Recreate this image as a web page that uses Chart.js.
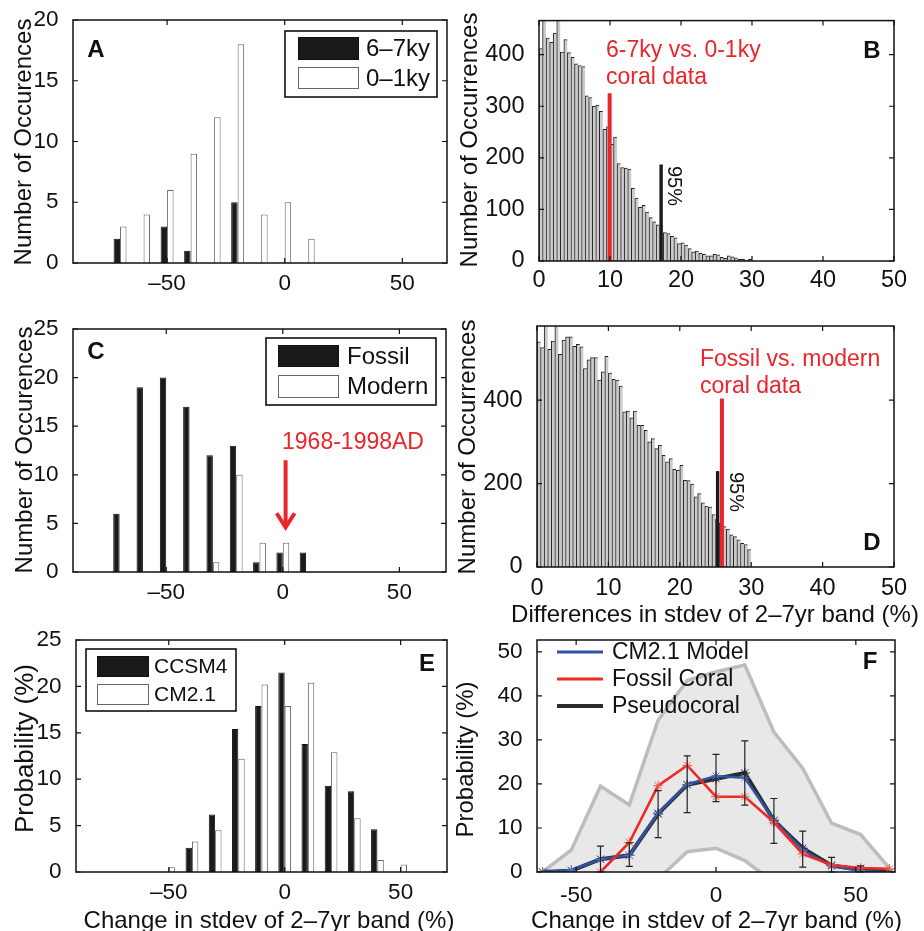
<!DOCTYPE html>
<html><head><meta charset="utf-8">
<style>
html,body{margin:0;padding:0;background:#fff;overflow:hidden;width:924px;height:931px;position:relative;}
canvas{position:absolute;}
</style>
<script src="https://cdn.jsdelivr.net/npm/chart.js@4.4.1/dist/chart.umd.min.js"></script>
</head><body>
<canvas id="cA"></canvas><canvas id="cB"></canvas><canvas id="cC"></canvas>
<canvas id="cD"></canvas><canvas id="cE"></canvas><canvas id="cF"></canvas>
<script>
// ---------------- DATA ----------------
// Panels A and C: grouped histograms, bin centres (%)
const groupBins = [-70, -60, -50, -40, -30, -20, -10, 0, 10];
const a_6_7ky = [2, 0, 3, 1, 0, 5, 0, 0, 0];
const a_0_1ky = [3, 4, 6, 9, 12, 18, 4, 5, 2];
const c_fossil = [6, 19, 20, 17, 12, 13, 1, 2, 2];
const c_modern = [0, 0, 0, 0, 1, 10, 3, 3, 0];
const cArrow = [1.2, 11.5, 4.4];          // x, start y, tip y

// Panels B and D: histogram bin centres (%) and counts
const histCenters = [0.25,0.75,1.25,1.75,2.25,2.75,3.25,3.75,4.25,4.75,5.25,5.75,6.25,6.75,7.25,7.75,8.25,8.75,9.25,9.75,
  10.25,10.75,11.25,11.75,12.25,12.75,13.25,13.75,14.25,14.75,15.25,15.75,16.25,16.75,17.25,17.75,18.25,18.75,19.25,19.75,
  20.25,20.75,21.25,21.75,22.25,22.75,23.25,23.75,24.25,24.75,25.25,25.75,26.25,26.75,27.25,27.75,28.25,28.75,29.25,29.75];
const bCounts = [412,480,432,424,442,480,405,429,404,395, 382,379,377,320,317,300,302,290,255,260,
  226,240,189,181,180,178,141,122,104,108, 95,84,76,70,68,55,53,48,45,34,
  35,31,24,18,19,15,13,10,10,13, 12,7,5,10,8,6,3,3,2,3];
const dCounts = [540,526,590,522,542,590,510,544,552,552, 529,534,528,476,497,502,502,448,468,505,
  465,450,448,434,372,374,358,374,340,340, 328,300,308,284,292,268,252,260,234,232,
  244,208,207,199,168,176,154,146,144,126, 115,105,97,91,77,73,65,57,54,42];
const bCoral = [9.95, 325];   // x, height
const b95 = [17.2, 187];
const dCoral = [25.9, 404];
const d95 = [25.3, 230];

// Panel E
const eBins = [-50, -40, -30, -20, -10, 0, 10, 20, 30, 40, 50];
const e_ccsm4 = [0, 2.6, 6.2, 15.4, 17.9, 21.5, 13.8, 9.3, 8.7, 4.6, 0];
const e_cm21 = [0.5, 3.3, 4.5, 12.2, 20.2, 17.9, 20.4, 12.9, 5.8, 1.3, 0.8];

// Panel F
const fX = [-62, -51.7, -41.3, -31, -20.7, -10.3, 0, 10.3, 20.7, 31, 41.3, 51.7, 62];
const fModel = [0, 0.4, 2.9, 3.8, 13.4, 19.9, 21.8, 21.4, 11.8, 5.0, 1.3, 0.3, -0.2];
const fFossil = [null, null, 0, 6.7, 19.6, 24.2, 17.1, 17.1, 11.3, 4.1, 1.6, 0.9, 0.7];
const fPseudo = [0, 0.3, 2.9, 3.8, 13.2, 19.8, 21.2, 22.5, 11.7, 5.4, 1.5, 0.5, 0];
const fErrHi = [null, null, 5.9, 6.6, 18.5, 26.4, 26.7, 29.8, 16.7, 9.3, 3.3, 1.4, null];
const fErrLo = [null, null, 0, 1.3, 7.8, 13.5, 16.0, 15.2, 6.5, 1.1, 0, 0, null];
const fUpper = [0, 5.0, 19.5, 15.2, 34.5, 43.5, 45.5, 47.0, 31.8, 23.6, 11.1, 8.5, 0.9];
const fLower = [-5, -5, -5, -5, -1.6, 4.6, 5.4, 2.6, -2.4, -5, -5, -5, -5];

// Ticks
const ticksPct = [-50, 0, 50];
const labelsPct = ['\u201350', '0', '50'];
const labelsPctF = ['-50', '0', '50'];
const ticksDiff = [0, 10, 20, 30, 40, 50];
const ticksA_y = [0, 5, 10, 15, 20];
const ticksB_y = [0, 100, 200, 300, 400];
const ticksC_y = [0, 5, 10, 15, 20, 25];
const ticksD_y = [0, 200, 400];
const ticksE_y = [0, 5, 10, 15, 20, 25];
const ticksF_y = [0, 10, 20, 30, 40, 50];

// ---------------- HELPERS ----------------
const FONT = "'Liberation Sans', Arial, Helvetica, sans-serif";
const INK = '#111';
const RED = '#e8262b';

function pts(xs, ys, zeroAsNull) {
  return xs.map((x, i) => ({x, y: (zeroAsNull && ys[i] === 0) ? null : ys[i]}));
}

function frameTicks(chart) {
  const {ctx, chartArea: a, scales: {x, y}} = chart;
  const TL = 5;
  ctx.save();
  ctx.strokeStyle = INK; ctx.lineWidth = 1.2;
  ctx.beginPath();
  x.ticks.forEach(t => { const p = x.getPixelForValue(t.value);
    ctx.moveTo(p, a.bottom); ctx.lineTo(p, a.bottom - TL); ctx.moveTo(p, a.top); ctx.lineTo(p, a.top + TL); });
  y.ticks.forEach(t => { const p = y.getPixelForValue(t.value);
    ctx.moveTo(a.left, p); ctx.lineTo(a.left + TL, p); ctx.moveTo(a.right, p); ctx.lineTo(a.right - TL, p); });
  ctx.stroke();
  ctx.lineWidth = 1.5;
  ctx.strokeRect(a.left, a.top, a.right - a.left, a.bottom - a.top);
  ctx.restore();
}
function xTickLabels(chart, labels, offset, size) {
  const {ctx, chartArea: a, scales: {x}} = chart;
  ctx.save(); ctx.font = size + 'px ' + FONT; ctx.fillStyle = INK;
  ctx.textAlign = 'center'; ctx.textBaseline = 'middle';
  x.ticks.forEach((t, i) => {
    const s = labels ? labels[i] : String(t.value);
    ctx.fillText(s, x.getPixelForValue(t.value), a.bottom + offset);
  });
  ctx.restore();
}
function letter(ctx, s, x, y) {
  ctx.save(); ctx.font = 'bold 24px ' + FONT; ctx.fillStyle = INK;
  ctx.textAlign = 'center'; ctx.textBaseline = 'middle'; ctx.fillText(s, x, y); ctx.restore();
}
function text(ctx, s, x, y, size, color, align) {
  ctx.save(); ctx.font = size + 'px ' + FONT; ctx.fillStyle = color;
  ctx.textAlign = align || 'left'; ctx.textBaseline = 'alphabetic'; ctx.fillText(s, x, y); ctx.restore();
}
function rtext(ctx, s, x, y, size, angle) {
  ctx.save(); ctx.translate(x, y); ctx.rotate(angle);
  ctx.font = size + 'px ' + FONT; ctx.fillStyle = INK; ctx.textAlign = 'center'; ctx.textBaseline = 'middle';
  ctx.fillText(s, 0, 0); ctx.restore();
}
function vline(chart, mark, color, w) {
  const {ctx, scales: {x, y}} = chart;
  const px = x.getPixelForValue(mark[0]);
  ctx.save(); ctx.strokeStyle = color; ctx.lineWidth = w; ctx.beginPath();
  ctx.moveTo(px, y.getPixelForValue(0)); ctx.lineTo(px, y.getPixelForValue(mark[1])); ctx.stroke(); ctx.restore();
}
function boxLegend(chart, g) {
  const {ctx} = chart;
  ctx.save();
  ctx.fillStyle = '#fff'; ctx.fillRect(g.box[0], g.box[1], g.box[2] - g.box[0], g.box[3] - g.box[1]);
  ctx.strokeStyle = INK; ctx.lineWidth = 1.6;
  ctx.strokeRect(g.box[0], g.box[1], g.box[2] - g.box[0], g.box[3] - g.box[1]);
  chart.data.datasets.forEach((ds, i) => {
    const [t, b] = g.rows[i];
    ctx.fillStyle = ds.backgroundColor;
    ctx.fillRect(g.sw[0], t, g.sw[1] - g.sw[0], b - t);
    ctx.strokeStyle = ds.borderColor; ctx.lineWidth = 1;
    ctx.strokeRect(g.sw[0] + 0.5, t + 0.5, g.sw[1] - g.sw[0] - 1, b - t - 1);
    ctx.fillStyle = INK; ctx.font = g.size + 'px ' + FONT;
    ctx.textAlign = 'left'; ctx.textBaseline = 'middle';
    ctx.fillText(ds.label, g.tx, (t + b) / 2 + 1);
  });
  ctx.restore();
}

function panel(cfg) {
  const c = document.getElementById(cfg.id);
  const [PX, PY, W, H] = cfg.box;
  c.width = W; c.height = H; c.style.left = PX + 'px'; c.style.top = PY + 'px';
  c.style.width = W + 'px'; c.style.height = H + 'px';
  const [L, T, R, B] = cfg.area;
  const xo = cfg.x, yo = cfg.y;
  const tickSize = cfg.tickSize || 22.5;
  const tickFont = {family: FONT, size: tickSize};
  const scales = {
    x: {
      type: 'linear', min: xo.min, max: xo.max, offset: false, position: 'bottom',
      grid: {display: false}, border: {display: false},
      afterBuildTicks: s => { s.ticks = xo.ticks.map(v => ({value: v})); },
      afterFit: s => { s.height = H - B; },
      ticks: {display: false, autoSkip: false},
      title: {display: false}
    },
    y: {
      type: 'linear', min: yo.min, max: yo.max, position: 'left',
      grid: {display: false}, border: {display: false},
      afterBuildTicks: s => { s.ticks = yo.ticks.map(v => ({value: v})); },
      afterFit: s => { s.width = L; },
      ticks: {autoSkip: false, padding: 6.5, color: INK, font: tickFont, callback: v => String(v)},
      title: {display: false}
    }
  };
  return new Chart(c, {
    type: cfg.type,
    data: {datasets: cfg.datasets},
    options: {
      responsive: false, animation: false, events: [],
      layout: {padding: {left: 0, top: T, right: W - R, bottom: 0}},
      scales,
      plugins: {legend: {display: false}, tooltip: {enabled: false}}
    },
    plugins: [{
      id: 'decor',
      afterDatasetsDraw: ch => { if (cfg.under) cfg.under(ch); },
      afterDraw: ch => {
        frameTicks(ch);
        const ctx = ch.ctx, a = ch.chartArea;
        xTickLabels(ch, xo.labels, xo.offset, tickSize);
        if (yo.title) rtext(ctx, yo.title, yo.titleX, yo.titleY !== undefined ? yo.titleY : (a.top + a.bottom) / 2,
          yo.titleSize || 24, -Math.PI / 2);
        if (xo.title) rtext(ctx, xo.title, xo.titleX !== undefined ? xo.titleX : (a.left + a.right) / 2, xo.titleY, 24, 0);
        if (cfg.over) cfg.over(ch);
      }
    }]
  });
}

const pairBar = {categoryPercentage: 0.55, barPercentage: 1, borderWidth: 1, borderSkipped: 'start'};
const histBar = {categoryPercentage: 1, barPercentage: 1, backgroundColor: '#cbcbcb', borderColor: '#222',
  borderWidth: {top: 1, left: 1, right: 0, bottom: 0}, borderSkipped: 'start', clip: 0};

// ---------------- PANEL A ----------------
panel({
  id: 'cA', type: 'bar', box: [0, 0, 460, 310], area: [73, 20, 447, 263],
  x: {min: -90, max: 69, ticks: ticksPct, labels: labelsPct, offset: 21},
  y: {min: 0, max: 20, ticks: ticksA_y, title: 'Number of Occurences', titleX: 24.7, titleY: 142},
  datasets: [
    Object.assign({label: '6\u20137ky', data: pts(groupBins, a_6_7ky, true), backgroundColor: '#1a1a1a', borderColor: '#111'}, pairBar),
    Object.assign({label: '0\u20131ky', data: pts(groupBins, a_0_1ky, true), backgroundColor: '#ffffff', borderColor: '#666'}, pairBar)
  ],
  over: ch => {
    letter(ch.ctx, 'A', 96, 50);
    boxLegend(ch, {box: [285, 31, 437, 97], sw: [298, 359], rows: [[37, 60], [67, 89]], tx: 366, size: 24});
  }
});

// ---------------- PANEL B ----------------
panel({
  id: 'cB', type: 'bar', box: [450, 0, 474, 310], area: [89, 20, 444, 261], tickSize: 23.5,
  x: {min: 0, max: 50, ticks: ticksDiff, offset: 20},
  y: {min: 0, max: 466, ticks: ticksB_y, title: 'Number of Occurrences', titleX: 20, titleY: 140},
  datasets: [Object.assign({label: '6-7ky vs. 0-1ky', data: pts(histCenters, bCounts, false)}, histBar)],
  under: ch => { vline(ch, bCoral, RED, 4); vline(ch, b95, '#1a1a1a', 3.4); },
  over: ch => {
    const ctx = ch.ctx;
    letter(ctx, 'B', 422, 51);
    text(ctx, '6-7ky vs. 0-1ky', 156, 57, 23, RED);
    text(ctx, 'coral data', 156, 84, 23, RED);
    rtext(ctx, '95%', 224, 186, 20, Math.PI / 2);
  }
});

// ---------------- PANEL C ----------------
panel({
  id: 'cC', type: 'bar', box: [0, 305, 460, 320], area: [73, 24, 446, 267],
  x: {min: -90, max: 70, ticks: ticksPct, labels: labelsPct, offset: 21},
  y: {min: 0, max: 25, ticks: ticksC_y, title: 'Number of Occurences', titleX: 25, titleY: 145},
  datasets: [
    Object.assign({label: 'Fossil', data: pts(groupBins, c_fossil, true), backgroundColor: '#1a1a1a', borderColor: '#111'}, pairBar),
    Object.assign({label: 'Modern', data: pts(groupBins, c_modern, true), backgroundColor: '#ffffff', borderColor: '#666'}, pairBar)
  ],
  under: ch => {
    const {ctx, scales: {x, y}} = ch;
    const px = x.getPixelForValue(cArrow[0]);
    const y0 = y.getPixelForValue(cArrow[1]), y1 = y.getPixelForValue(cArrow[2]);
    ctx.save(); ctx.strokeStyle = RED; ctx.lineWidth = 4; ctx.lineCap = 'butt';
    ctx.beginPath(); ctx.moveTo(px, y0); ctx.lineTo(px, y1 - 3); ctx.stroke();
    ctx.lineJoin = 'miter';
    ctx.beginPath(); ctx.moveTo(px - 9, y1 - 16); ctx.lineTo(px, y1 - 2); ctx.lineTo(px + 9, y1 - 16); ctx.stroke();
    ctx.restore();
  },
  over: ch => {
    letter(ch.ctx, 'C', 96, 47);
    text(ch.ctx, '1968-1998AD', 353, 144, 23, RED, 'center');
    boxLegend(ch, {box: [266, 33, 436, 100], sw: [278, 339], rows: [[40, 62], [70, 93]], tx: 347, size: 24});
  }
});

// ---------------- PANEL D ----------------
panel({
  id: 'cD', type: 'bar', box: [450, 305, 474, 325], area: [87, 21, 444, 262], tickSize: 23.5,
  x: {min: 0, max: 50, ticks: ticksDiff, offset: 22, title: 'Differences in stdev of 2\u20137yr band (%)', titleX: 265, titleY: 310},
  y: {min: 0, max: 578, ticks: ticksD_y, title: 'Number of Occurrences', titleX: 18.5, titleY: 142},
  datasets: [Object.assign({label: 'Fossil vs. modern', data: pts(histCenters, dCounts, false)}, histBar)],
  under: ch => { vline(ch, d95, '#1a1a1a', 3.4); vline(ch, dCoral, RED, 4); },
  over: ch => {
    const ctx = ch.ctx;
    letter(ctx, 'D', 422, 238);
    text(ctx, 'Fossil vs. modern', 250, 61, 23, RED);
    text(ctx, 'coral data', 250, 88, 23, RED);
    rtext(ctx, '95%', 286, 187, 20, Math.PI / 2);
  }
});

// ---------------- PANEL E ----------------
panel({
  id: 'cE', type: 'bar', box: [0, 620, 460, 320], area: [76, 15, 447, 252],
  x: {min: -90, max: 70, ticks: ticksPct, labels: labelsPct, offset: 21, title: 'Change in stdev of 2\u20137yr band (%)', titleX: 269, titleY: 301},
  y: {min: 0, max: 25, ticks: ticksE_y, title: 'Probability (%)', titleX: 25.5, titleY: 128.5, titleSize: 26},
  datasets: [
    Object.assign({label: 'CCSM4', data: pts(eBins, e_ccsm4, true), backgroundColor: '#1a1a1a', borderColor: '#111'}, pairBar),
    Object.assign({label: 'CM2.1', data: pts(eBins, e_cm21, true), backgroundColor: '#ffffff', borderColor: '#666'}, pairBar)
  ],
  over: ch => {
    letter(ch.ctx, 'E', 427, 44);
    boxLegend(ch, {box: [86, 29, 236, 91], sw: [97, 149], rows: [[36, 57], [64, 85]], tx: 154, size: 21});
  }
});

// ---------------- PANEL F ----------------
const fLine = {tension: 0, fill: false, pointStyle: 'star', pointRadius: 5, pointBorderWidth: 1};
panel({
  id: 'cF', type: 'line', box: [450, 620, 474, 320], area: [87, 16, 445, 252],
  x: {min: -64, max: 64, ticks: ticksPct, labels: labelsPctF, offset: 23.5, title: 'Change in stdev of 2\u20137yr band (%)', titleX: 266.5, titleY: 301},
  y: {min: 0, max: 52.7, ticks: ticksF_y, title: 'Probability (%)', titleX: 16.7, titleY: 139.5},
  datasets: [
    {label: 'upper', data: pts(fX, fUpper), borderColor: '#bdbdbd', borderWidth: 3.5, backgroundColor: '#e8e8e8',
      fill: 1, pointRadius: 0, tension: 0, order: 10},
    {label: 'lower', data: pts(fX, fLower), borderColor: '#bdbdbd', borderWidth: 3.5, fill: false, pointRadius: 0, tension: 0, order: 9},
    Object.assign({label: 'Pseudocoral', data: pts(fX, fPseudo), borderColor: '#2b2b2b', borderWidth: 4,
      pointBorderColor: '#222', backgroundColor: '#222', order: 3}, fLine),
    Object.assign({label: 'CM2.1 Model', data: pts(fX, fModel), borderColor: '#2e52a6', borderWidth: 2.6,
      pointBorderColor: '#5a78c0', backgroundColor: '#2e52a6', order: 2}, fLine),
    Object.assign({label: 'Fossil Coral', data: pts(fX, fFossil), borderColor: '#ee2a24', borderWidth: 2.6,
      pointBorderColor: '#f05a50', backgroundColor: '#ee2a24', order: 1}, fLine)
  ],
  under: ch => {
    const {ctx, scales: {x, y}} = ch;
    ctx.save(); ctx.strokeStyle = '#222'; ctx.lineWidth = 1.2; ctx.beginPath();
    fX.forEach((xv, i) => {
      if (fErrHi[i] === null) return;
      const px = x.getPixelForValue(xv), yh = y.getPixelForValue(fErrHi[i]), yl = y.getPixelForValue(fErrLo[i]);
      ctx.moveTo(px, yh); ctx.lineTo(px, yl);
      ctx.moveTo(px - 3.5, yh); ctx.lineTo(px + 3.5, yh);
      ctx.moveTo(px - 3.5, yl); ctx.lineTo(px + 3.5, yl);
    });
    ctx.stroke(); ctx.restore();
  },
  over: ch => {
    const ctx = ch.ctx;
    letter(ctx, 'F', 420, 42);
    const items = [ch.data.datasets[3], ch.data.datasets[4], ch.data.datasets[2]];
    const ys = [32, 59, 86];
    items.forEach((ds, i) => {
      ctx.save(); ctx.strokeStyle = ds.borderColor; ctx.lineWidth = i === 2 ? 4 : 3;
      ctx.beginPath(); ctx.moveTo(107, ys[i]); ctx.lineTo(153, ys[i]); ctx.stroke();
      ctx.fillStyle = INK; ctx.font = '23px ' + FONT; ctx.textAlign = 'left'; ctx.textBaseline = 'middle';
      ctx.fillText(ds.label, 162, ys[i] + 1); ctx.restore();
    });
  }
});
</script>
</body></html>
